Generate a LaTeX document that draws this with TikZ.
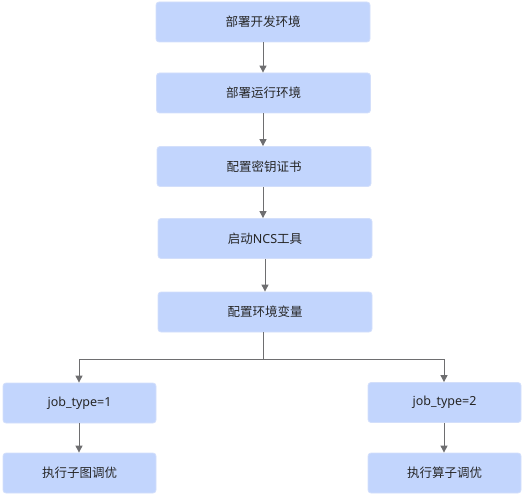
\documentclass[tikz,border=0pt]{standalone}
\usepackage{fontspec}
\setmainfont{Noto Sans CJK SC}
\newfontfamily\latinf{Noto Sans}
\usetikzlibrary{arrows.meta}
\definecolor{boxfill}{HTML}{C2D5FD}
\definecolor{boxline}{HTML}{D3DFFB}
\definecolor{linegray}{HTML}{6E6E70}
\tikzset{
  stepbox/.style={draw=boxline, fill=boxfill, rounded corners=3pt, line width=0.8pt,
    minimum height=40pt, inner sep=0pt, font=\fontsize{12.5pt}{14pt}\selectfont, text=black!85},
  conn/.style={draw=linegray, line width=1pt, -{Triangle[width=7pt,length=7pt]}}
}
\begin{document}
\begin{tikzpicture}[x=1pt,y=-1pt]
\useasboundingbox (0,0) rectangle (524,494);
\node[stepbox, minimum width=214pt] (a) at (263,22) {部署开发环境};
\node[stepbox, minimum width=214pt] (b) at (263.5,93) {部署运行环境};
\node[stepbox, minimum width=214pt] (c) at (264,166.5) {配置密钥证书};
\node[stepbox, minimum width=214pt] (d) at (265,238.5) {启动{\latinf NCS}工具};
\node[stepbox, minimum width=214pt] (e) at (265,312) {配置环境变量};
\node[stepbox, minimum width=153pt] (f) at (79.5,403) {\latinf job\_type=1};
\node[stepbox, minimum width=153pt] (g) at (79.5,473) {执行子图调优};
\node[stepbox, minimum width=153pt] (h) at (444.5,402.5) {\latinf job\_type=2};
\node[stepbox, minimum width=153pt] (i) at (444.5,473) {执行算子调优};
\coordinate (br) at (263,359);
\draw[conn] (a.south -| 263,0) -- (b.north -| 263,0);
\draw[conn] (b.south -| 263,0) -- (c.north -| 263,0);
\draw[conn] (c.south -| 263,0) -- (d.north -| 263,0);
\draw[conn] (d.south -| 265,0) -- (e.north -| 265,0);
\draw[draw=linegray, line width=1pt] (e.south -| br) -- (br);
\draw[conn] (br) -| (f.north -| 79,0);
\draw[conn] (br) -| (h.north -| 444,0);
\draw[conn] (f.south -| 79,0) -- (g.north -| 79,0);
\draw[conn] (h.south -| 444,0) -- (i.north -| 444,0);
\end{tikzpicture}
\end{document}
